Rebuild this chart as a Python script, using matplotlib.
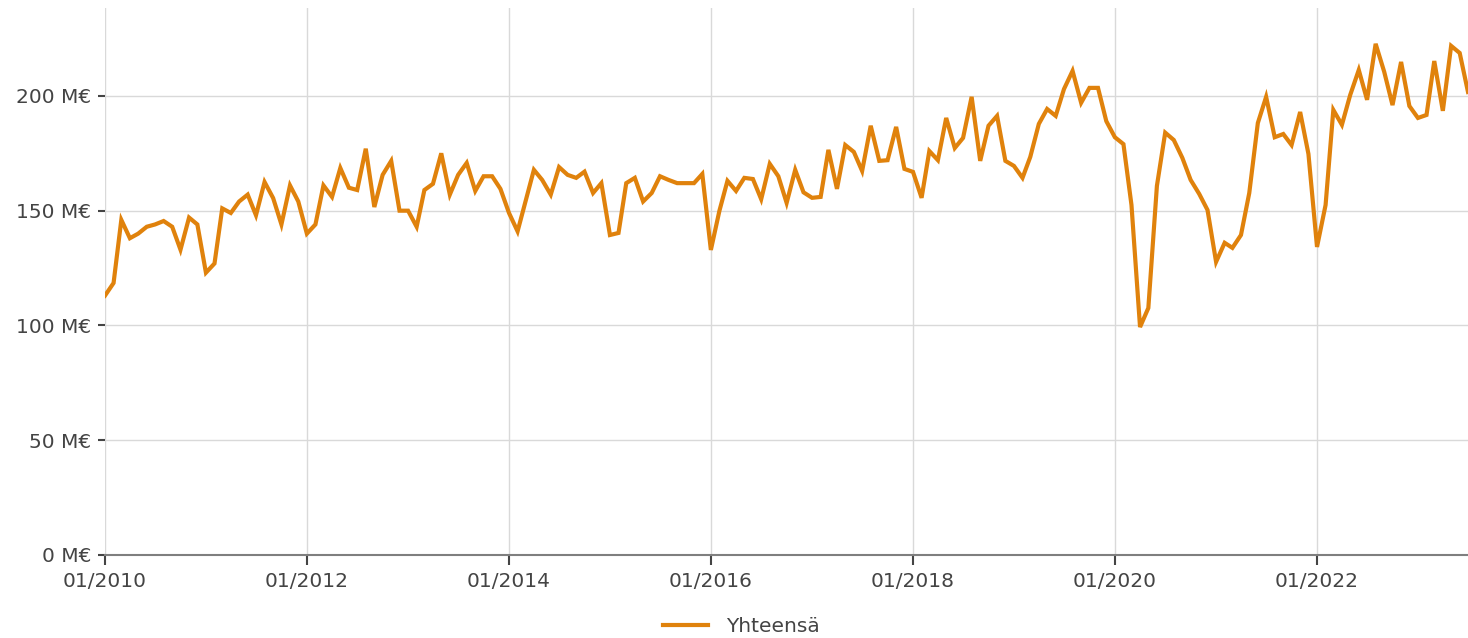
import numpy as np
import pandas as pd
import matplotlib
matplotlib.use("Agg")
import matplotlib.pyplot as plt
import matplotlib.dates as mdates
from matplotlib.ticker import FuncFormatter

# Kuukausittaiset arvot (M€), 01/2010 - 07/2023
v2010 = [113, 118.5, 146, 138, 140, 143, 144, 145.5, 143, 133, 147, 144]
v2011 = [123, 127, 151, 149, 154, 157, 148, 162.5, 155.5, 144, 161, 154]
v2012 = [140, 144, 161, 156, 168.6, 160, 159, 177, 151.6, 165.6, 171.7, 150]
v2013 = [150, 143, 159, 161.7, 175, 157, 165.6, 170.8, 158.6, 165, 165, 159.5]
v2014 = [149, 141, 153.8, 167.8, 163.4, 157, 169, 165.6, 164.3, 167, 157.7, 162]
v2015 = [139.4, 140.3, 162, 164.3, 154, 157.7, 165, 163.4, 162, 162, 162, 166]
v2016 = [132.9, 150, 163, 158.6, 164.3, 163.8, 155, 170.4, 165, 153.4, 167.8, 158]
v2017 = [155.6, 156, 176.5, 159.5, 178.6, 175.6, 167.3, 187, 171.7, 172, 186.5, 168.2]
v2018 = [166.9, 155.6, 176, 172, 190.4, 177.3, 181.7, 199.6, 171.7, 187, 191.3, 171.7]
v2019 = [169.5, 164.3, 173.4, 187.8, 194.3, 191.3, 203, 210.9, 197, 203.5, 203.5, 189]
v2020 = [182, 179, 152.5, 99.3, 107.6, 160.8, 184, 180.8, 173, 163.4, 157.3, 150.3]
v2021 = [127.7, 136, 133.8, 139.4, 157.7, 188.2, 199.6, 182, 183.4, 178.6, 193, 174.7]
v2022 = [134.2, 152.5, 193.9, 187.4, 200.4, 211.3, 198.3, 222.7, 210.5, 196, 214.8, 195.6]
v2023 = [190.4, 191.7, 215.2, 193.5, 221.8, 218.7, 201.7]

arvot = (v2010 + v2011 + v2012 + v2013 + v2014 + v2015 + v2016 + v2017
         + v2018 + v2019 + v2020 + v2021 + v2022 + v2023)
kuukaudet = pd.date_range("2010-01-01", periods=len(arvot), freq="MS")

y_ticks = [0, 50, 100, 150, 200]
x_ticks = pd.to_datetime([f"{y}-01-01" for y in range(2010, 2023, 2)])

fig = plt.figure(figsize=(14.68, 6.38), dpi=100)
ax = fig.add_axes([105 / 1468, 83 / 638, 1 - 105 / 1468, (555 - 8) / 638])

ax.plot(kuukaudet, arvot, color="#e0820c", lw=3.0, solid_joinstyle="miter",
        label="Yhteensä", zorder=3)

ax.set_xlim(kuukaudet[0], kuukaudet[-1])
ax.set_ylim(0, 238.3)

ax.set_yticks(y_ticks)
ax.yaxis.set_major_formatter(FuncFormatter(lambda v, p: f"{v:.0f} M€"))
ax.set_xticks(x_ticks)
ax.xaxis.set_major_formatter(mdates.DateFormatter("%m/%Y"))

ax.grid(True, color="#d9d9d9", lw=1.0, zorder=0)
for s in ["top", "right", "left"]:
    ax.spines[s].set_visible(False)
ax.spines["bottom"].set_color("#7f7f7f")
ax.spines["bottom"].set_linewidth(1.5)

ax.tick_params(axis="y", length=5, width=1.5, color="#444444", labelcolor="#444444",
               labelsize=14.5, pad=5)
ax.tick_params(axis="x", length=7, width=1.5, color="#444444", labelcolor="#444444",
               labelsize=14.5, pad=5)

fig.legend(loc="lower center", bbox_to_anchor=(0.505, -0.026), frameon=False,
           fontsize=14.5, handlelength=2.2, handletextpad=0.9, labelcolor="#444444")

fig.savefig("out.png", dpi=100)
